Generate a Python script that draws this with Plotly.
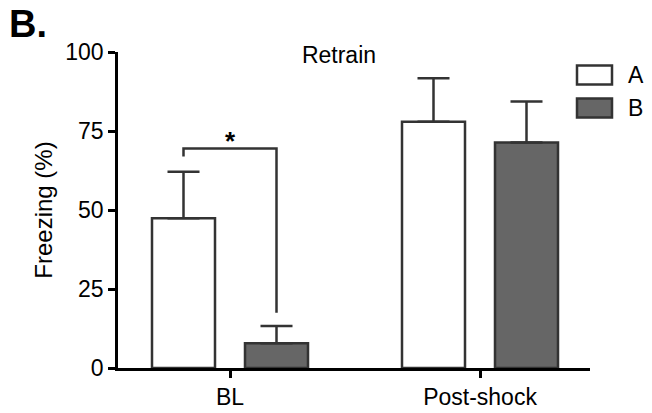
import plotly.graph_objects as go

# ---- data ----
categories = ["BL", "Post-shock"]
series_names = ["A", "B"]
mean_A = [47.4, 77.9]
err_top_A = [62.1, 91.7]
mean_B = [7.8, 71.4]
err_top_B = [13.3, 84.3]
bracket_y = [66.9, 69.5, 69.5, 17.5]
y_ticks = [0, 25, 50, 75, 100]

# ---- layout constants ----
W, H = 652, 413
L, R, T, B = 118, 62, 52, 45
bw = 0.252
gap = 0.12
line_col = "#333333"
fill = ["#ffffff", "#666666"]
FONT = "Liberation Sans, Arial, sans-serif"

xpos = list(range(len(categories)))
offA = -bw - gap / 2
offB = gap / 2

def px_x(p):
    return (p - L) / (W - L - R)

def px_y(p):
    return 1 - (p - T) / (H - T - B)

fig = go.Figure()
fig.add_trace(go.Bar(
    x=xpos, y=mean_A, width=bw, offset=offA, name=series_names[0],
    marker=dict(color=fill[0], line=dict(color=line_col, width=2.5)),
    error_y=dict(type="data", symmetric=False,
                 array=[e - m for e, m in zip(err_top_A, mean_A)],
                 arrayminus=[0] * len(mean_A),
                 color=line_col, thickness=2.5, width=16),
))
fig.add_trace(go.Bar(
    x=xpos, y=mean_B, width=bw, offset=offB, name=series_names[1],
    marker=dict(color=fill[1], line=dict(color=line_col, width=2.5)),
    error_y=dict(type="data", symmetric=False,
                 array=[e - m for e, m in zip(err_top_B, mean_B)],
                 arrayminus=[0] * len(mean_B),
                 color=line_col, thickness=2.5, width=16),
))

# significance bracket between A and B at BL
cA = xpos[0] + offA + bw / 2
cB = xpos[0] + offB + bw / 2
fig.add_trace(go.Scatter(
    x=[cA, cA, cB, cB], y=bracket_y, mode="lines",
    line=dict(color=line_col, width=2.5), hoverinfo="skip",
))
fig.add_annotation(x=xpos[0], y=bracket_y[1], text="<b>*</b>", showarrow=False,
                   yanchor="bottom", yshift=-10, font=dict(size=26, color="black", family=FONT))

# manual legend
for i, (nm, yc) in enumerate(zip(series_names, [75, 108])):
    fig.add_shape(type="rect", xref="paper", yref="paper",
                  x0=px_x(577), x1=px_x(612), y0=px_y(yc - 9.5), y1=px_y(yc + 9.5),
                  fillcolor=fill[i], line=dict(color=line_col, width=2.5))
    fig.add_annotation(xref="paper", yref="paper", x=px_x(626), y=px_y(yc),
                       xanchor="left", yanchor="middle", text=nm, showarrow=False,
                       font=dict(size=23, color="black", family=FONT))

# panel letter
fig.add_annotation(xref="paper", yref="paper", x=px_x(7), y=px_y(24),
                   xanchor="left", yanchor="middle", text="<b>B.</b>", showarrow=False,
                   font=dict(size=38, color="black", family=FONT))

fig.update_layout(
    template="none",
    width=W, height=H, margin=dict(l=L, r=R, t=T, b=B, autoexpand=False),
    paper_bgcolor="white", plot_bgcolor="white",
    barmode="overlay", showlegend=False,
    font=dict(family=FONT, color="black", size=22),
    title=dict(text="Retrain", x=339 / W, y=1 - 55 / H, xanchor="center", yanchor="middle",
               font=dict(size=23, color="black", family=FONT)),
    xaxis=dict(range=[-0.448, 1.44], tickvals=xpos, ticktext=categories, automargin=False,
               showline=True, linecolor="black", linewidth=2.5, ticks="outside",
               ticklen=7, tickwidth=2.5, tickcolor="black", showgrid=False, zeroline=False,
               tickfont=dict(size=23)),
    yaxis=dict(range=[0, 100], tickvals=y_ticks, showline=True, linecolor="black",
               automargin=False,
               linewidth=2.5, ticks="outside", ticklen=7, tickwidth=2.5, tickcolor="black",
               showgrid=False, zeroline=False, tickfont=dict(size=23),
               title=dict(text="Freezing (%)", font=dict(size=24), standoff=6)),
)

fig.write_html("out.html", config={"displayModeBar": False},
               post_script="document.body.style.margin='0';document.body.style.overflow='hidden';")
